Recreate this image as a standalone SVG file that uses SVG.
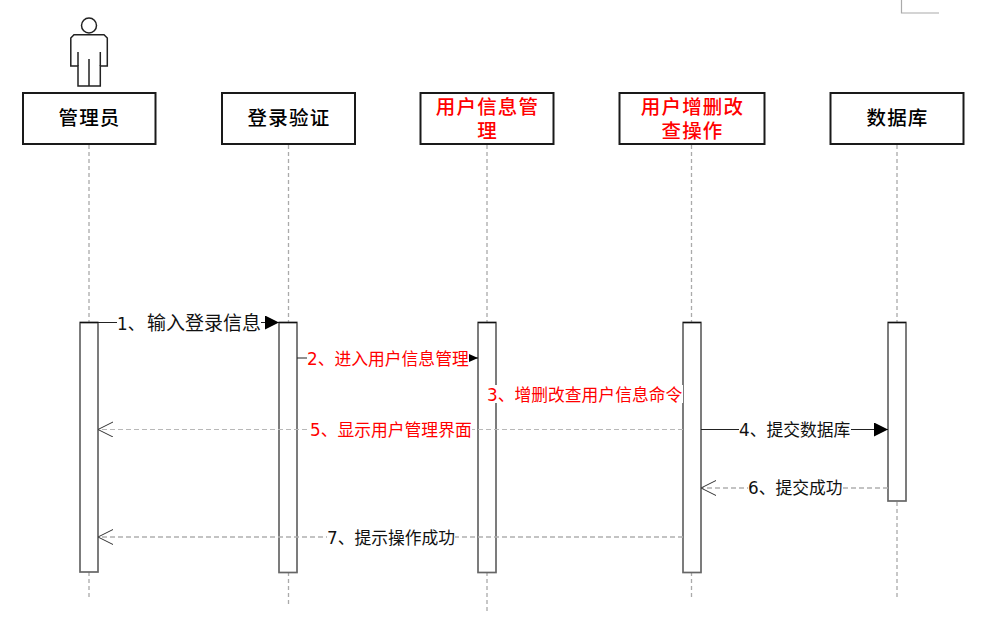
<svg xmlns="http://www.w3.org/2000/svg" width="987" height="626" viewBox="0 0 987 626">
<style>
text{font-family:"DejaVu Sans","Noto Sans CJK SC",sans-serif}
.box{fill:#fff;stroke:#1a1a1a;stroke-width:2}
.nl{font-family:"Noto Sans CJK SC",sans-serif;font-size:19.500px;font-weight:500;text-anchor:middle;letter-spacing:1.200px}
.life{fill:none;stroke:#aaa;stroke-width:1.300;stroke-dasharray:4 3}
.act{fill:#fff;stroke:#666;stroke-width:1.700}
.cap{fill:none;stroke:#111;stroke-width:1.300}
.solid{fill:none;stroke:#222;stroke-width:1.200}
.dash{fill:none;stroke:#b0b0b0;stroke-width:1.300;stroke-dasharray:5 3}
.thin{fill:none;stroke:#b8b8b8;stroke-width:1;stroke-dasharray:5 3}
.ml{font-size:16.800px}
.red{fill:#f00}
.blk{fill:#111}
.bg{fill:#fff}
</style>
<defs>
<marker id="big" markerUnits="userSpaceOnUse" markerWidth="15" markerHeight="14" refX="14" refY="7" orient="auto"><path d="M0 0L14 7L0 14Z" fill="#000"/></marker>
<marker id="small" markerUnits="userSpaceOnUse" markerWidth="10" markerHeight="9" refX="9" refY="4" orient="auto"><path d="M0 0L9 4L0 8Z" fill="#000"/></marker>
<marker id="open" markerUnits="userSpaceOnUse" markerWidth="16" markerHeight="16" refX="15" refY="7.500" orient="auto"><path d="M0 0L15 7.500L0 15" fill="none" stroke="#333" stroke-width="1"/></marker>
</defs>
<path d="M901.500 0V13H939" fill="none" stroke="#aaa" stroke-width="1.200"/>
<g id="lifelines">
<path class="life" d="M89 145V599"/>
<path class="life" d="M288.500 145V606"/>
<path class="life" d="M487 145V614"/>
<path class="life" d="M691.500 145V599"/>
<path class="life" d="M897 145V600"/>
</g>
<g id="actor-figure" fill="none" stroke="#222" stroke-width="1.500">
<circle cx="89" cy="25.500" r="7.500"/>
<path d="M74 34.700H104L107.300 38V66H100.300V86H78V66H70.800V38Z"/>
<path d="M78 66V52M100.300 66V52M89 59V86"/>
</g>
<g id="node-admin"><rect class="box" x="23" y="93" width="132.500" height="51"/><text class="nl" x="89.500" y="125">管理员</text></g>
<g id="node-login"><rect class="box" x="222" y="93" width="133" height="51"/><text class="nl" x="289" y="125">登录验证</text></g>
<g id="node-user-info"><rect class="box" x="420.500" y="93" width="133" height="51"/><text class="nl red"><tspan x="487.500" y="114">用户信息管</tspan><tspan x="487.500" y="138">理</tspan></text></g>
<g id="node-user-ops"><rect class="box" x="619.500" y="93" width="145" height="51"/><text class="nl red"><tspan x="692.500" y="114">用户增删改</tspan><tspan x="692.500" y="138">查操作</tspan></text></g>
<g id="node-db"><rect class="box" x="830.500" y="93" width="133" height="51"/><text class="nl" x="897.500" y="125">数据库</text></g>
<g id="activations">
<rect class="act" x="80" y="322.500" width="18" height="249.500"/><path class="cap" d="M80 322.500H98"/>
<rect class="act" x="279" y="322.500" width="18" height="250"/><path class="cap" d="M279 322.500H297"/>
<rect class="act" x="478" y="322.500" width="18" height="250"/><path class="cap" d="M478 322.500H496"/>
<rect class="act" x="683" y="322.500" width="18" height="250"/><path class="cap" d="M683 322.500H701"/>
<rect class="act" x="888" y="322.500" width="18" height="178.500"/><path class="cap" d="M888 322.500H906"/>
</g>
<g id="connectors">
<path class="solid" d="M98 322.500H279" marker-end="url(#big)"/>
<path class="solid" d="M297 358H478" marker-end="url(#small)"/>
<path class="thin" d="M683 429.500H98" marker-end="url(#open)"/>
<path class="solid" d="M701 429.500H888" marker-end="url(#big)"/>
<path class="dash" d="M888 488H701" marker-end="url(#open)"/>
<path class="dash" d="M683 537H98" marker-end="url(#open)"/>
</g>
<g id="labels">
<rect class="bg" x="117" y="313" width="144" height="19"/><text class="blk" x="117" y="329.500" font-size="16.800">1、</text><text class="blk" x="147" y="329.500" font-size="19" style="font-family:'Noto Sans CJK SC',sans-serif">输入登录信息</text>
<rect class="bg" x="307" y="349" width="162" height="18"/><text class="ml red" x="307" y="365">2、进入用户信息管理</text>
<rect class="bg" x="487" y="385" width="196" height="18"/><text class="ml red" x="487" y="401">3、增删改查用户信息命令</text>
<rect class="bg" x="310" y="421" width="162" height="18"/><text class="ml red" x="310" y="436">5、显示用户管理界面</text>
<rect class="bg" x="739" y="421" width="112" height="18"/><text class="ml blk" x="739" y="436">4、提交数据库</text>
<rect class="bg" x="748" y="479" width="95" height="18"/><text class="ml blk" x="748" y="494">6、提交成功</text>
<rect class="bg" x="327" y="528" width="128" height="18"/><text class="ml blk" x="327" y="544">7、提示操作成功</text>
</g>
</svg>
